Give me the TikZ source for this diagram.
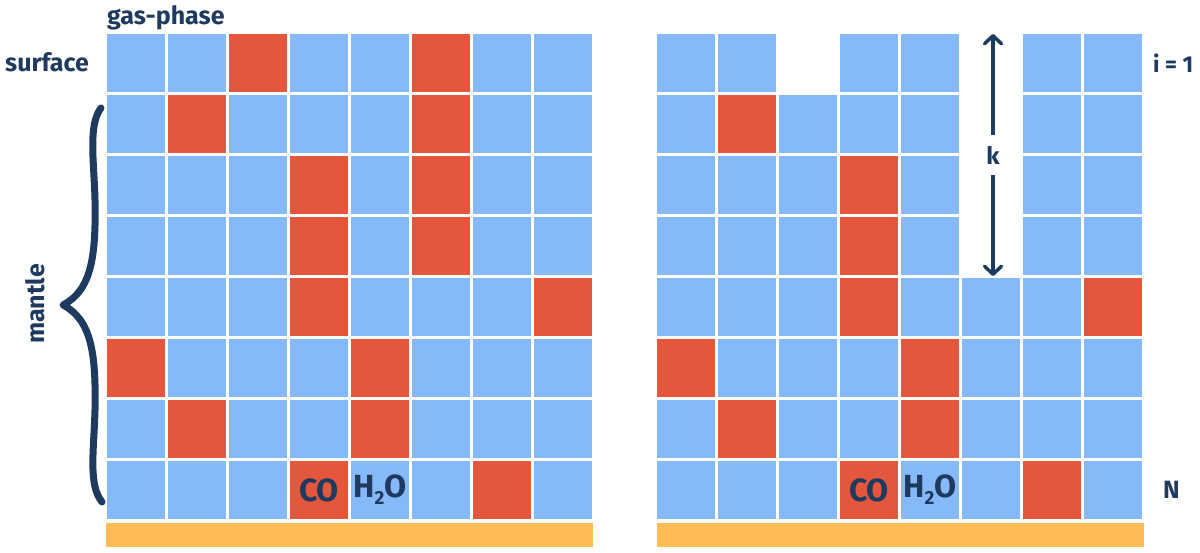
\documentclass[tikz,border=0pt]{standalone}
\usepackage{fontspec}
\setmainfont{Fira Sans}
\usetikzlibrary{arrows.meta}
\definecolor{cblue}{HTML}{86B9FA}
\definecolor{cred}{HTML}{E5573C}
\definecolor{corange}{HTML}{FFBB55}
\definecolor{navy}{HTML}{1E3A5F}
\begin{document}
\begin{tikzpicture}[x=1pt,y=-1pt,
  cellbase/.style={minimum width=58pt,minimum height=58pt,inner sep=0pt,outer sep=0pt,anchor=north west},
  cell0/.style={cellbase,fill=cblue},
  cell1/.style={cellbase,fill=cred},
  barbox/.style={minimum width=487pt,minimum height=24pt,inner sep=0pt,anchor=north west,fill=corange},
  lab/.style={text=navy,inner sep=0pt,font=\bfseries\fontsize{25}{28}\selectfont},
  mol/.style={text=navy,inner sep=0pt,font=\bfseries\fontsize{32}{34}\selectfont},
  arr/.style={draw=navy,line width=3.5pt,-{Straight Barb[length=8pt,width=17pt,round]}}]
\useasboundingbox (0,0) rectangle (1200,552);
% left grid
\foreach \rowlist [count=\r] in {{0,0,1,0,0,1,0,0},{0,1,0,0,0,1,0,0},{0,0,0,1,0,1,0,0},{0,0,0,1,0,1,0,0},{0,0,0,1,0,0,0,1},{1,0,0,0,1,0,0,0},{0,1,0,0,1,0,0,0},{0,0,0,1,0,0,1,0}}{
  \foreach \t [count=\c] in \rowlist {
    \node[cell\t] (L\r-\c) at ({107+(\c-1)*61},{34+(\r-1)*61}) {};
  }
}
% right grid (2 = empty)
\foreach \rowlist [count=\r] in {{0,0,2,0,0,2,0,0},{0,1,0,0,0,2,0,0},{0,0,0,1,0,2,0,0},{0,0,0,1,0,2,0,0},{0,0,0,1,0,0,0,1},{1,0,0,0,1,0,0,0},{0,1,0,0,1,0,0,0},{0,0,0,1,0,0,1,0}}{
  \foreach \t [count=\c] in \rowlist {
    \ifnum\t<2
    \node[cell\t] (R\r-\c) at ({657+(\c-1)*61},{34+(\r-1)*61}) {};
    \fi
  }
}
% substrate bars
\node[barbox] (barL) at (106,523) {};
\node[barbox] (barR) at (657,523) {};
% molecule labels
\node[mol] (coL) at (L8-4.center) {CO};
\node[mol] (hoL) at (L8-5.center) {H\raisebox{-0.22em}{\fontsize{19}{19}\selectfont 2}O};
\node[mol] (coR) at (R8-4.center) {CO};
\node[mol] (hoR) at (R8-5.center) {H\raisebox{-0.22em}{\fontsize{19}{19}\selectfont 2}O};
% labels
\node[lab,anchor=base west] (gas) at (107,24) {gas-phase};
\node[lab,anchor=base west] (surf) at (5,71) {surface};
\node[lab,rotate=90] (mant) at (35,304) {mantle};
\node[lab,anchor=base west,font=\bfseries\fontsize{23}{26}\selectfont] (ione) at (1153,72) {i = 1};
\node[lab,anchor=base west] (nN) at (1163,498) {N};
% brace
\draw[navy,line width=7pt,line cap=round,line join=round]
  (101,108) .. controls (88,125) and (94,160) .. (95,200)
  .. controls (96,255) and (92,290) .. (63,305)
  .. controls (92,320) and (96,355) .. (95,410)
  .. controls (94,450) and (88,485) .. (102,502);
% k arrow
\node[lab,minimum height=40pt,font=\bfseries\fontsize{24}{26}\selectfont] (k) at (993,155) {k};
\coordinate (ktop) at (993,34);
\coordinate (kbot) at (993,276);
\draw[arr] (k.north) -- (ktop);
\draw[arr] (k.south) -- (kbot);
\end{tikzpicture}
\end{document}
